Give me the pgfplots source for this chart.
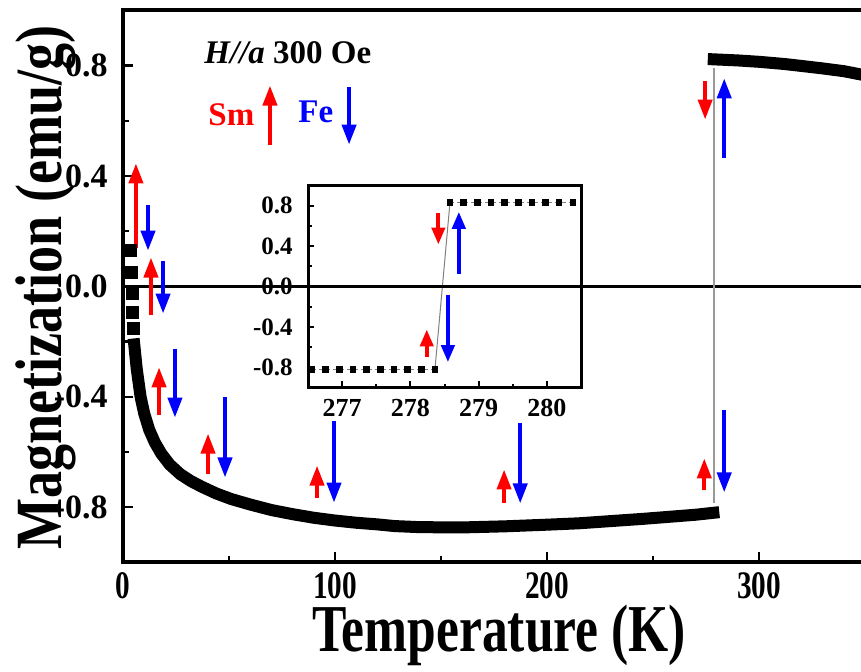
\documentclass[border=0pt]{standalone}
\usepackage{graphicx}
\usepackage{fontspec}
\setmainfont{Liberation Serif}
\usepackage{pgfplots}
\pgfplotsset{compat=1.18}
\usetikzlibrary{arrows.meta}

% horizontally condensed text
\newcommand\sx[1]{\scalebox{0.75}[1]{#1}}

\definecolor{smred}{RGB}{255,0,0}
\definecolor{feblue}{RGB}{0,0,255}

\tikzset{
  spin/.style={line width=2pt, -{Triangle[width=7pt,length=10pt]}},
  spinsmall/.style={line width=2pt, -{Triangle[width=6.5pt,length=8.5pt]}},
}
% vertical spin arrow: colour, T, tail M, tip M
\newcommand\spin[4]{\draw[spin,#1] (axis cs:#2,#3) -- (axis cs:#2,#4);}
\newcommand\spins[4]{\draw[spinsmall,#1] (axis cs:#2,#3) -- (axis cs:#2,#4);}

\pgfplotstableread{
T M
5.3 -0.21
6.5 -0.30
8.3 -0.40
10 -0.46
12.4 -0.52
15 -0.565
18 -0.605
22 -0.645
27 -0.68
32 -0.705
37 -0.725
44 -0.75
51 -0.77
60 -0.79
70 -0.81
80 -0.825
90 -0.838
100 -0.848
110 -0.856
120 -0.862
128 -0.868
140 -0.872
160 -0.873
180 -0.869
200 -0.863
215 -0.858
230 -0.85
245 -0.842
260 -0.833
270 -0.827
278.36 -0.82
}\lowbranch

\pgfplotstableread{
T M
278.58 0.823
290 0.819
300 0.814
312 0.806
320 0.799
330 0.79
340 0.78
348 0.768
}\highbranch

\begin{document}
\begin{tikzpicture}
% ---------- inset: the jump near 278.5 K ----------
\begin{axis}[
  at={(92.5pt,87.5pt)}, anchor=south west,
  scale only axis, width=136.5pt, height=101pt,
  xmin=276.5, xmax=280.5, ymin=-1, ymax=1,
  axis line style={line width=1.5pt},
  tick align=inside, tick pos=left,
  xtick={277,278,279,280}, xticklabels={277,278,279,280},
  minor xtick={277.5,278.5,279.5},
  ytick={-0.8,-0.4,0,0.4,0.8}, yticklabels={-0.8,-0.4,0.0,0.4,0.8},
  minor ytick={-0.6,-0.2,0.2,0.6},
  major tick length=3pt, minor tick length=1.8pt,
  tick style={line width=1pt, black},
  xticklabel style={anchor=north, inner sep=0pt, yshift=-5.5pt,
    font=\fontsize{13}{13}\selectfont\bfseries},
  yticklabel style={anchor=east, inner sep=0pt, xshift=-7.5pt,
    font=\fontsize{12.5}{12.5}\selectfont\bfseries},
  clip=false,
]
\addplot[gray, line width=0.5pt, dash pattern=on 2pt off 1.5pt,
  mark=square*, mark size=1.4pt, mark options={solid, black}]
  coordinates {(276.56,-0.82)(276.76,-0.82)(276.96,-0.82)(277.16,-0.82)(277.36,-0.82)
               (277.56,-0.82)(277.76,-0.82)(277.96,-0.82)(278.16,-0.82)(278.36,-0.82)};
\addplot[gray, line width=0.5pt, dash pattern=on 2pt off 1.5pt,
  mark=square*, mark size=1.4pt, mark options={solid, black}]
  coordinates {(278.58,0.83)(278.78,0.83)(278.98,0.83)(279.18,0.83)(279.38,0.83)
               (279.58,0.83)(279.78,0.83)(279.98,0.83)(280.18,0.83)(280.38,0.83)};
\addplot[gray, line width=0.5pt] coordinates {(278.36,-0.82)(278.58,0.83)};
\spins{smred}{278.41}{0.73}{0.415}
\spins{feblue}{278.71}{0.128}{0.74}
\spins{smred}{278.24}{-0.70}{-0.425}
\spins{feblue}{278.55}{-0.08}{-0.75}
\end{axis}

% ---------- main M(T) curve ----------
\begin{axis}[
  at={(0,0)}, anchor=south west,
  scale only axis, width=369pt, height=276pt,
  xmin=0, xmax=348, ymin=-1, ymax=1,
  axis x line*=bottom, axis y line*=left,
  axis line style={line width=2pt, line cap=rect},
  tick align=inside,
  major tick length=5pt, minor tick length=3pt,
  tick style={line width=1.2pt, black},
  xtick={0,100,200,300}, xticklabels={\sx{0},\sx{100},\sx{200},\sx{300}},
  minor xtick={50,150,250},
  ytick={-0.8,-0.4,0,0.4,0.8}, yticklabels={-0.8,-0.4,0.0,0.4,0.8},
  minor ytick={-0.6,-0.2,0.2,0.6},
  xticklabel style={anchor=north, inner sep=0pt, yshift=-5pt,
    font=\fontsize{19.5}{19.5}\selectfont\bfseries},
  yticklabel style={anchor=east, inner sep=0pt, xshift=-7.5pt,
    font=\fontsize{17}{17}\selectfont\bfseries},
  clip=false,
]
\draw[line width=2pt, line cap=rect] (rel axis cs:0,1) -- (rel axis cs:1,1);
\addplot[black, line width=1.5pt] coordinates {(0,0)(348,0)};
% transition line
\addplot[gray!80, line width=1pt] coordinates {(278.5,0.79)(278.5,-0.786)};
% lowest temperatures: individual points
\addplot[only marks, mark=square*, mark size=3pt, black]
  coordinates {(3.3,0.13)(3.8,0.05)(4.2,-0.025)(4.5,-0.094)(5.0,-0.152)};
\addplot[black, line width=6pt, line cap=rect, line join=round] table[x=T,y=M] {\lowbranch};
\addplot[black, line width=6pt, line cap=rect, line join=round] table[x=T,y=M] {\highbranch};

% spin arrows (Sm up/down in red, Fe in blue)
\spin{smred}{6.1}{0.138}{0.446}
\spin{feblue}{11.8}{0.297}{0.130}
\spin{smred}{13.2}{-0.105}{0.105}
\spin{feblue}{18.9}{0.094}{-0.098}
\spin{smred}{17.0}{-0.467}{-0.293}
\spin{feblue}{24.5}{-0.225}{-0.475}
\spin{smred}{40.1}{-0.678}{-0.533}
\spin{feblue}{48.1}{-0.402}{-0.692}
\spin{smred}{91.5}{-0.768}{-0.649}
\spin{feblue}{99.5}{-0.489}{-0.783}
\spin{smred}{179.7}{-0.783}{-0.663}
\spin{feblue}{187.3}{-0.496}{-0.786}
\spin{smred}{274.1}{-0.739}{-0.623}
\spin{feblue}{283.5}{-0.449}{-0.746}
\spin{smred}{274.5}{0.746}{0.605}
\spin{feblue}{283.5}{0.467}{0.754}

% key
\node[anchor=base west, inner sep=0pt, font=\fontsize{16.5}{16.5}\selectfont\bfseries]
  at (axis cs:38.2,0.808) {\textit{H//a} 300 Oe};
\node[anchor=base west, inner sep=0pt, text=smred, font=\fontsize{16.5}{16.5}\selectfont\bfseries]
  at (axis cs:40.1,0.583) {Sm};
\node[anchor=base west, inner sep=0pt, text=feblue, font=\fontsize{16.5}{16.5}\selectfont\bfseries]
  at (axis cs:82.5,0.594) {Fe};
\spin{smred}{69.3}{0.511}{0.728}
\spin{feblue}{106.6}{0.721}{0.514}
\end{axis}

% axis titles
\node[rotate=90, anchor=base, inner sep=0pt, font=\fontsize{33}{33}\selectfont\bfseries]
  at (-30.5pt,137.5pt) {\scalebox{0.82}[1]{Magnetization (emu/g)}};
\node[anchor=base, inner sep=0pt, font=\fontsize{33.5}{33.5}\selectfont\bfseries]
  at (188pt,-44.5pt) {\scalebox{0.77}[1]{Temperature (K)}};

\pgfresetboundingbox
\useasboundingbox (-61.5pt,-54.75pt) rectangle (369pt,281.25pt);
\end{tikzpicture}
\end{document}
